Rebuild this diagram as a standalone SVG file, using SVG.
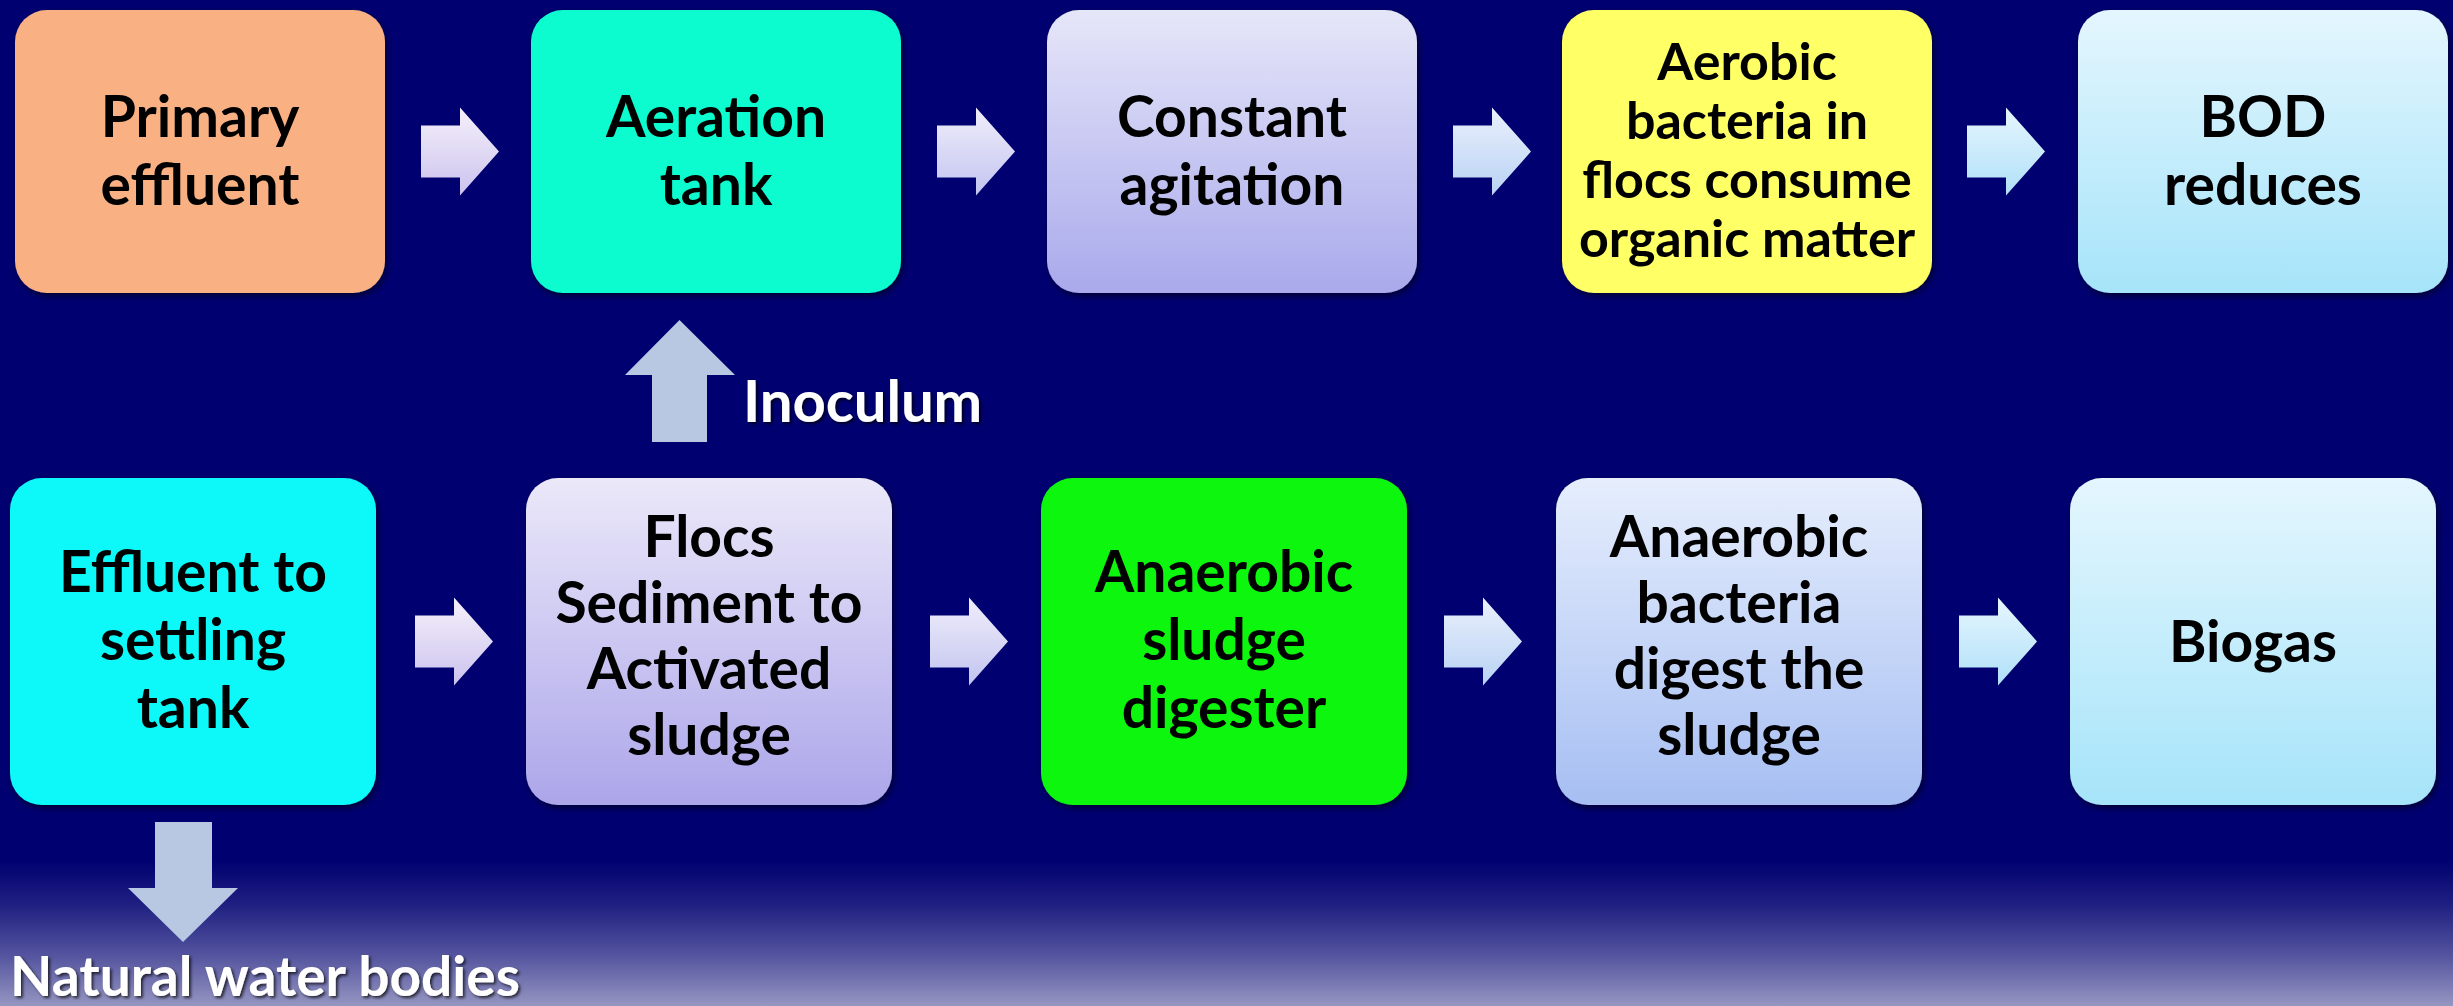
<svg xmlns="http://www.w3.org/2000/svg" xmlns:xlink="http://www.w3.org/1999/xlink" width="2453" height="1006" viewBox="0 0 2453 1006">
  <defs>
    <linearGradient id="bg" x1="0" y1="0" x2="0" y2="1006" gradientUnits="userSpaceOnUse">
      <stop offset="0" stop-color="#000070"/>
      <stop offset="0.855" stop-color="#000070"/>
      <stop offset="0.9" stop-color="#202082"/>
      <stop offset="0.95" stop-color="#54549f"/>
      <stop offset="1" stop-color="#9696c2"/>
    </linearGradient>
    <linearGradient id="gLav" x1="0" y1="0" x2="0" y2="1">
      <stop offset="0" stop-color="#e6e6f9"/>
      <stop offset="1" stop-color="#a9a9ec"/>
    </linearGradient>
    <linearGradient id="gLav2" x1="0" y1="0" x2="0" y2="1">
      <stop offset="0" stop-color="#ebe8f9"/>
      <stop offset="1" stop-color="#aca6ea"/>
    </linearGradient>
    <linearGradient id="gBlue" x1="0" y1="0" x2="0" y2="1">
      <stop offset="0" stop-color="#e6eefd"/>
      <stop offset="1" stop-color="#a6bef2"/>
    </linearGradient>
    <linearGradient id="gCyan" x1="0" y1="0" x2="0" y2="1">
      <stop offset="0" stop-color="#e4f6fe"/>
      <stop offset="1" stop-color="#a6e4f9"/>
    </linearGradient>
    <linearGradient id="a1" x1="0" y1="0" x2="0" y2="1">
      <stop offset="0" stop-color="#f6f0fb"/>
      <stop offset="1" stop-color="#cbc3ee"/>
    </linearGradient>
    <linearGradient id="a2" x1="0" y1="0" x2="0" y2="1">
      <stop offset="0" stop-color="#f0eefb"/>
      <stop offset="1" stop-color="#c2c4f0"/>
    </linearGradient>
    <linearGradient id="a3" x1="0" y1="0" x2="0" y2="1">
      <stop offset="0" stop-color="#eaf0fc"/>
      <stop offset="1" stop-color="#b9d2f4"/>
    </linearGradient>
    <linearGradient id="a4" x1="0" y1="0" x2="0" y2="1">
      <stop offset="0" stop-color="#e6f6fe"/>
      <stop offset="1" stop-color="#b0e0f8"/>
    </linearGradient>
    <filter id="sh" x="-10%" y="-10%" width="125%" height="125%">
      <feDropShadow dx="2" dy="3" stdDeviation="3" flood-color="#000000" flood-opacity="0.55"/>
    </filter>
    <filter id="tsh" x="-5%" y="-20%" width="115%" height="150%">
      <feDropShadow dx="2" dy="2" stdDeviation="1.5" flood-color="#000000" flood-opacity="0.7"/>
    </filter>
    <path id="ra" d="M0,-26 H39 V-44 L78,0 L39,44 V26 H0 Z"/>
    <style>
      .box { filter: url(#sh); }
      .t { font-family: Lato, "Open Sans", "Liberation Sans", sans-serif; font-weight: bold; font-size: 57px; fill: #000000; text-anchor: middle; }
      .ts { font-size: 52px; }
      .w { font-family: Lato, "Open Sans", "Liberation Sans", sans-serif; font-weight: bold; fill: #ffffff; filter: url(#tsh); }
    </style>
  </defs>

  <rect x="0" y="0" width="2453" height="1006" fill="url(#bg)"/>

  <g id="connectors">
    <use xlink:href="#ra" href="#ra" transform="translate(421,151.5)" fill="url(#a1)"/>
    <use xlink:href="#ra" href="#ra" transform="translate(937,151.5)" fill="url(#a2)"/>
    <use xlink:href="#ra" href="#ra" transform="translate(1453,151.5)" fill="url(#a3)"/>
    <use xlink:href="#ra" href="#ra" transform="translate(1967,151.5)" fill="url(#a4)"/>
    <use xlink:href="#ra" href="#ra" transform="translate(415,641.5)" fill="url(#a1)"/>
    <use xlink:href="#ra" href="#ra" transform="translate(930,641.5)" fill="url(#a2)"/>
    <use xlink:href="#ra" href="#ra" transform="translate(1444,641.5)" fill="url(#a3)"/>
    <use xlink:href="#ra" href="#ra" transform="translate(1959,641.5)" fill="url(#a4)"/>
    <path id="inoculum-arrow" d="M652,442 V375 H625 L679.5,320 L735,375 H707 V442 Z" fill="#b8c8e2"/>
    <path id="outflow-arrow" d="M155,822 H212 V888 H238 L183,942 L128,888 H155 Z" fill="#b8c8e2"/>
    <text class="w" x="743" y="422" font-size="58">Inoculum</text>
    <text class="w" x="10" y="996" font-size="55">Natural water bodies</text>
  </g>

  <g id="n-primary">
    <rect class="box" x="15" y="10" width="370" height="283" rx="32" fill="#f9b183"/>
    <text class="t" x="200" y="137">Primary</text>
    <text class="t" x="200" y="205">effluent</text>
  </g>
  <g id="n-aeration">
    <rect class="box" x="531" y="10" width="370" height="283" rx="32" fill="#0afccf"/>
    <text class="t" x="716" y="137">Aeration</text>
    <text class="t" x="716" y="205">tank</text>
  </g>
  <g id="n-agitation">
    <rect class="box" x="1047" y="10" width="370" height="283" rx="32" fill="url(#gLav)"/>
    <text class="t" x="1232" y="137">Constant</text>
    <text class="t" x="1232" y="205">agitation</text>
  </g>
  <g id="n-aerobic">
    <rect class="box" x="1562" y="10" width="370" height="283" rx="32" fill="#ffff66"/>
    <text class="t ts" x="1747" y="80">Aerobic</text>
    <text class="t ts" x="1747" y="139">bacteria in</text>
    <text class="t ts" x="1747" y="198">flocs consume</text>
    <text class="t ts" x="1747" y="257">organic matter</text>
  </g>
  <g id="n-bod">
    <rect class="box" x="2078" y="10" width="370" height="283" rx="32" fill="url(#gCyan)"/>
    <text class="t" x="2263" y="137">BOD</text>
    <text class="t" x="2263" y="205">reduces</text>
  </g>

  <g id="n-settling">
    <rect class="box" x="10" y="478" width="366" height="327" rx="32" fill="#0ff8f8"/>
    <text class="t" x="193" y="592">Effluent to</text>
    <text class="t" x="193" y="660">settling</text>
    <text class="t" x="193" y="728">tank</text>
  </g>
  <g id="n-flocs">
    <rect class="box" x="526" y="478" width="366" height="327" rx="32" fill="url(#gLav2)"/>
    <text class="t" x="709" y="557">Flocs</text>
    <text class="t" x="709" y="623">Sediment to</text>
    <text class="t" x="709" y="689">Activated</text>
    <text class="t" x="709" y="755">sludge</text>
  </g>
  <g id="n-digester">
    <rect class="box" x="1041" y="478" width="366" height="327" rx="32" fill="#10f610"/>
    <text class="t" x="1224" y="592">Anaerobic</text>
    <text class="t" x="1224" y="660">sludge</text>
    <text class="t" x="1224" y="728">digester</text>
  </g>
  <g id="n-anaerobic">
    <rect class="box" x="1556" y="478" width="366" height="327" rx="32" fill="url(#gBlue)"/>
    <text class="t" x="1739" y="557">Anaerobic</text>
    <text class="t" x="1739" y="623">bacteria</text>
    <text class="t" x="1739" y="689">digest the</text>
    <text class="t" x="1739" y="755">sludge</text>
  </g>
  <g id="n-biogas">
    <rect class="box" x="2070" y="478" width="366" height="327" rx="32" fill="url(#gCyan)"/>
    <text class="t" x="2253" y="662">Biogas</text>
  </g>
</svg>
